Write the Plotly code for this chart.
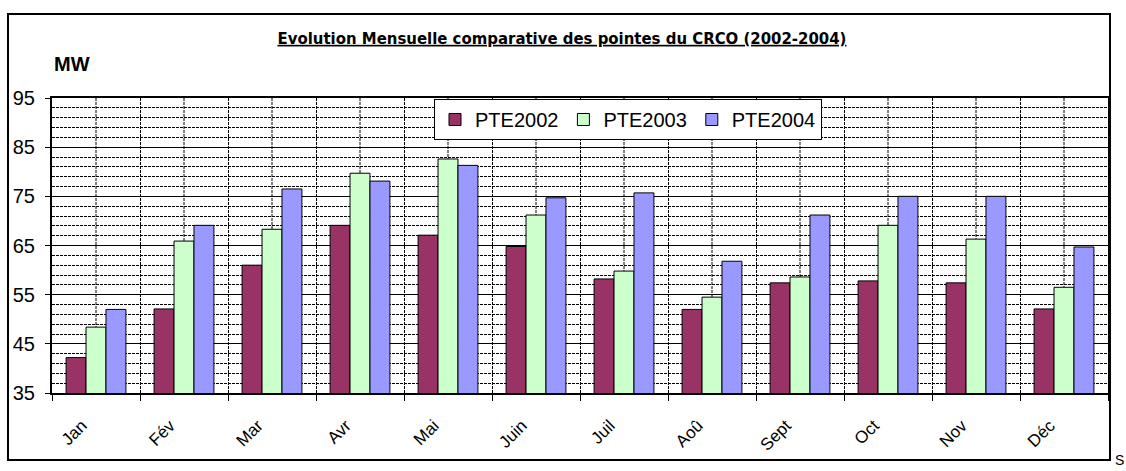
import plotly.graph_objects as go

months = ["Jan", "Fév", "Mar", "Avr", "Mai", "Juin", "Juil", "Aoû", "Sept", "Oct", "Nov", "Déc"]
pte2002 = [42.2, 52.1, 61.0, 69.1, 67.1, 64.8, 58.2, 52.0, 57.4, 57.8, 57.4, 52.1]
pte2003 = [48.4, 65.9, 68.3, 79.7, 82.6, 71.2, 59.8, 54.5, 58.6, 69.1, 66.3, 56.5]
pte2004 = [52.0, 69.1, 76.5, 78.1, 81.3, 74.7, 75.7, 61.8, 71.2, 75.0, 75.0, 64.7]

series = [("PTE2002", pte2002, "#993366"),
          ("PTE2003", pte2003, "#CCFFCC"),
          ("PTE2004", pte2004, "#9999FF")]

fig = go.Figure()
for name, vals, col in series:
    fig.add_trace(go.Bar(x=months, y=vals, name=name,
                         marker=dict(color=col, line=dict(color="black", width=1))))

DASH = "3px,1px"

# dashed vertical lines at category centres
for m in months:
    fig.add_shape(type="line", xref="x", yref="paper", x0=m, x1=m, y0=0, y1=1,
                  line=dict(color="black", width=1, dash=DASH), layer="below")

# outer frame
fig.add_shape(type="rect", xref="paper", yref="paper",
              x0=(8 - 52) / 1056, x1=(1110 - 52) / 1056,
              y0=(393 - 460) / 295, y1=(393 - 14) / 295,
              line=dict(color="black", width=2), fillcolor="rgba(0,0,0,0)")

fig.add_annotation(text="<b>MW</b>", xref="paper", yref="paper",
                   x=(52 - 52) / 1056, y=(393 - 64) / 295, xanchor="left", yanchor="middle",
                   showarrow=False, font=dict(family="Liberation Sans, Arial", size=20, color="black"))

fig.add_annotation(text="S", xref="paper", yref="paper",
                   x=(1113 - 52) / 1056, y=(393 - 460) / 295, xanchor="left", yanchor="middle",
                   showarrow=False, font=dict(family="Liberation Sans, Arial", size=14, color="black"))

fig.update_layout(
    width=1126, height=471,
    margin=dict(l=52, r=18, t=98, b=78, autoexpand=False),
    paper_bgcolor="white", plot_bgcolor="white",
    barmode="group", bargap=0.32, bargroupgap=0,
    title=dict(text="<b><u>Evolution Mensuelle comparative des pointes du CRCO (2002-2004)</u></b>",
               x=(562 - 52) / 1056, xref="paper", xanchor="center",
               y=1 - 38 / 471, yref="container", yanchor="middle",
               font=dict(family="Liberation Sans Narrow, Arial Narrow, DejaVu Sans Condensed", size=16.6, color="black")),
    legend=dict(orientation="h", x=(434 - 52) / 1056, y=(393 - 99) / 295,
                xanchor="left", yanchor="top",
                bgcolor="white", bordercolor="black", borderwidth=1,
                font=dict(family="Liberation Sans, Arial", size=20, color="black"),
                itemwidth=30, tracegroupgap=0),
    font=dict(family="Liberation Sans, Arial", color="black"),
)

fig.update_xaxes(type="category", tickson="boundaries", ticks="outside", ticklen=6,
                 tickcolor="black", tickwidth=1, automargin=False,
                 showline=True, linecolor="black", linewidth=2, mirror=True,
                 showgrid=True, gridcolor="black", gridwidth=1, griddash=DASH,
                 tickangle=-45, tickfont=dict(family="Liberation Sans, Arial", size=17, color="black"),
                 ticklabelstandoff=14, ticklabelshift=-14)

fig.update_yaxes(range=[35, 95], dtick=10, tick0=35, ticks="outside", ticklen=5,
                 tickcolor="black", tickwidth=1, automargin=False,
                 showline=True, linecolor="black", linewidth=2, mirror=True,
                 showgrid=True, gridcolor="black", gridwidth=1,
                 zeroline=False,
                 minor=dict(dtick=2, tick0=35, showgrid=True, gridcolor="black", gridwidth=1,
                            griddash=DASH, ticks=""),
                 tickfont=dict(family="Liberation Sans, Arial", size=20, color="black"),
                 ticklabelstandoff=6)

fig.write_html("out.html", config={"displayModeBar": False},
               post_script="document.body.style.margin='0';document.body.style.overflow='hidden';")
